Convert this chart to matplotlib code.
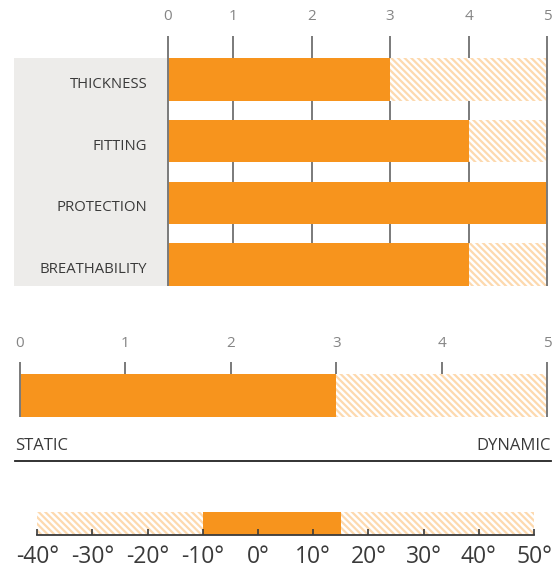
import numpy as np
import matplotlib
matplotlib.use("Agg")
import matplotlib.pyplot as plt
from matplotlib.patches import Rectangle
from matplotlib.lines import Line2D
from matplotlib.transforms import ScaledTranslation

plt.rcParams['font.family'] = ['Open Sans', 'DejaVu Sans']
plt.rcParams['hatch.linewidth'] = 1.6

# ---- data ----
categories = ["THICKNESS", "FITTING", "PROTECTION", "BREATHABILITY"]
ratings = [3, 4, 5, 4]
rating_max = 5
rating_ticks = [0, 1, 2, 3, 4, 5]
# the reference's top scale draws its first unit narrower than the others
first_unit_width = 0.83

activity_value = 3
activity_max = 5
activity_ticks = [0, 1, 2, 3, 4, 5]
activity_low = "STATIC"
activity_high = "DYNAMIC"

temp_min, temp_max = -40, 50
temp_range = (-10, 15)
temp_ticks = [-40, -30, -20, -10, 0, 10, 20, 30, 40, 50]
temp_labels = [f"{t}°" for t in temp_ticks]

ORANGE = "#F7941D"
HATCH = "#FDD9AE"
GRID = "#7a7a7a"
TEXT = "#3a3a3a"
TICKTXT = "#858585"
BG = "#EDECEA"
HATCH_PATTERN = '\\' * 5

W, H = 558, 569
fig = plt.figure(figsize=(W / 100, H / 100), dpi=100)


def px_axes(x0, y0, x1, y1):
    return fig.add_axes([x0 / W, 1 - y1 / H, (x1 - x0) / W, (y1 - y0) / H])


def fwd(v):
    v = np.asarray(v, dtype=float)
    return np.where(v < 1, v * first_unit_width, v - (1 - first_unit_width))


def inv(u):
    u = np.asarray(u, dtype=float)
    return np.where(u < first_unit_width, u / first_unit_width, u + (1 - first_unit_width))


# ---------- top chart ----------
ax1 = px_axes(168, 36, 547, 286)
ax1.set_xscale('function', functions=(fwd, inv))
ax1.set_xlim(0, rating_max)
ypos = np.arange(len(categories))
ylim1 = (len(categories) - 1 + 0.345, -0.70)
ax1.set_ylim(*ylim1)
bh = 0.69
ax1.barh(ypos, [rating_max] * len(categories), height=bh, left=0, color="white",
         edgecolor=HATCH, hatch=HATCH_PATTERN, linewidth=0, zorder=1)
ax1.barh(ypos, ratings, height=bh, left=0, color=ORANGE, linewidth=0, zorder=2)
ax1.vlines(rating_ticks[1:-1], ylim1[0], ylim1[1], color=GRID, lw=1.4, zorder=0)
ax1.vlines([rating_ticks[0], rating_ticks[-1]], ylim1[0], ylim1[1], color=GRID, lw=1.4,
           zorder=3, clip_on=False)
ax1.xaxis.tick_top()
ax1.set_xticks(rating_ticks)
ax1.set_xticklabels([str(t) for t in rating_ticks])
ax1.tick_params(axis='x', length=0, pad=9, labelsize=11, labelcolor=TICKTXT)
ax1.set_yticks(ypos)
ax1.set_yticklabels(categories)
ax1.tick_params(axis='y', length=0, pad=15, labelsize=10.7, labelcolor=TEXT)
shift = ScaledTranslation(0, -3 / 100, fig.dpi_scale_trans)
for lab in ax1.get_yticklabels():
    lab.set_transform(lab.get_transform() + shift)
for s in ax1.spines.values():
    s.set_visible(False)
ax1.patch.set_visible(False)
fig.add_artist(Rectangle((14 / W, 1 - 286 / H), (168 - 14) / W, (286 - 58) / H,
                         transform=fig.transFigure, color=BG, zorder=-1, lw=0))

# ---------- middle chart ----------
ax2 = px_axes(20, 362, 547, 417)
ax2.set_xlim(0, activity_max)
ylim2 = (0, 55 / 43)
ax2.set_ylim(*ylim2)
ax2.barh([0.5], [activity_max], height=1, color="white", edgecolor=HATCH,
         hatch=HATCH_PATTERN, linewidth=0, zorder=1)
ax2.barh([0.5], [activity_value], height=1, color=ORANGE, linewidth=0, zorder=2)
ax2.vlines(activity_ticks[1:-1], ylim2[0], ylim2[1], color=GRID, lw=1.4, zorder=0)
ax2.vlines([activity_ticks[0], activity_ticks[-1]], ylim2[0], ylim2[1], color=GRID, lw=1.4,
           zorder=3, clip_on=False)
ax2.xaxis.tick_top()
ax2.set_xticks(activity_ticks)
ax2.set_xticklabels([str(t) for t in activity_ticks])
ax2.tick_params(axis='x', length=0, pad=8, labelsize=11, labelcolor=TICKTXT)
ax2.set_yticks([])
for s in ax2.spines.values():
    s.set_visible(False)
ax2.patch.set_visible(False)

fig.text(15 / W, 1 - 446 / H, activity_low, ha='left', va='center', fontsize=12, color=TEXT)
fig.text(551 / W, 1 - 446 / H, activity_high, ha='right', va='center', fontsize=12, color=TEXT)
fig.add_artist(Line2D([15 / W, 551 / W], [1 - 460.7 / H] * 2, transform=fig.transFigure,
                      color="#222222", lw=1.3))

# ---------- bottom chart ----------
ax3 = px_axes(37.3, 512.3, 534, 535)
ax3.set_xlim(temp_min, temp_max)
ax3.set_ylim(0, 1)
ax3.barh([0.5], [temp_max - temp_min], left=temp_min, height=1, color="white",
         edgecolor=HATCH, hatch=HATCH_PATTERN, linewidth=0, zorder=1)
ax3.barh([0.5], [temp_range[1] - temp_range[0]], left=temp_range[0], height=1,
         color=ORANGE, linewidth=0, zorder=2)
ax3.set_xticks(temp_ticks)
ax3.set_xticklabels(temp_labels)
ax3.tick_params(axis='x', direction='in', length=4.5, width=1.2, color="#3a3a3a",
                pad=7, labelsize=16.5, labelcolor=TEXT)
ax3.set_yticks([])
for k in ('top', 'left', 'right'):
    ax3.spines[k].set_visible(False)
ax3.spines['bottom'].set_color("#3a3a3a")
ax3.spines['bottom'].set_linewidth(1.3)
ax3.patch.set_visible(False)
ax3.set_axisbelow(False)

fig.savefig("out.png", dpi=100)
